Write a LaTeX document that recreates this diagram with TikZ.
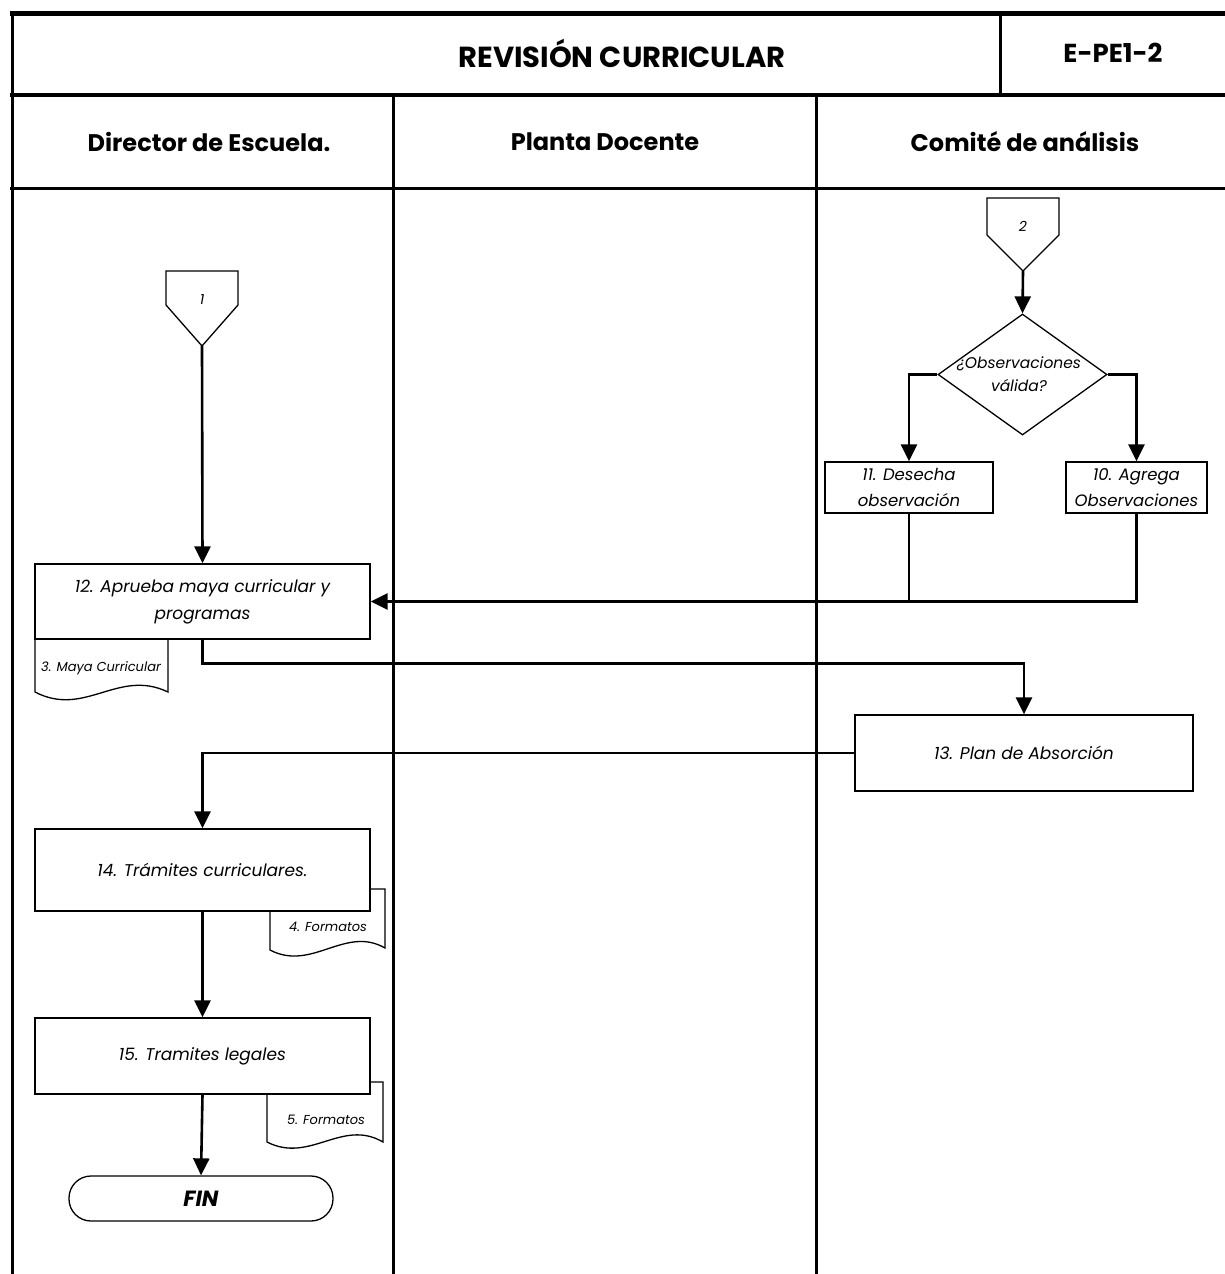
\documentclass[tikz,border=0pt]{standalone}
\usepackage{fontspec}
\setmainfont{Poppins}
\usetikzlibrary{arrows.meta,shapes.geometric,calc}

\begin{document}
\begin{tikzpicture}[x=1pt,y=-1pt,
  frame/.style={line width=3pt},
  box/.style={draw, line width=1.3pt, fill=white, align=center, inner sep=2pt,
    font=\fontsize{17}{27}\selectfont\itshape},
  docshape/.style={draw, line width=1.3pt, fill=white},
  doctext/.style={font=\fontsize{13}{15}\selectfont\itshape, inner sep=0pt},
  flow/.style={line width=2.6pt, -{Triangle[length=17pt,width=16pt]}},
  plain/.style={line width=2.6pt},
  lanehead/.style={font=\fontsize{24}{28}\selectfont\bfseries},
]
\useasboundingbox (0,0) rectangle (1225,1274);

% ---- frame, title row and lane headers ----
\draw[line width=5pt] (10,13) -- (1225,13);
\draw[line width=4pt] (10,95) -- (1225,95);
\draw[frame] (10,188) -- (1225,188);
\draw[frame] (12,11) -- (12,1274);
\draw[frame] (1000,11) -- (1000,95);
\draw[frame] (393,95) -- (393,1274);
\draw[frame] (816,95) -- (816,1274);

\node[font=\fontsize{29}{34}\selectfont\bfseries] (title) at (622,53) {REVISIÓN CURRICULAR};
\node[font=\fontsize{26}{30}\selectfont\bfseries] (code) at (1113,53) {E-PE1-2};
\node[lanehead] (lane1) at (209,142) {Director de Escuela.};
\node[lanehead] (lane2) at (605,142) {Planta Docente};
\node[lanehead] (lane3) at (1025,142) {Comité de análisis};

% ---- off-page connectors ----
\draw[line width=1.3pt, fill=white] (166,271) -- (238,271) -- (238,305) -- (202,346) -- (166,305) -- cycle;
\coordinate (c1) at (202,346);
\node[font=\fontsize{14}{16}\selectfont\itshape] (c1t) at (202,300) {1};

\draw[line width=1.3pt, fill=white] (987,198) -- (1059,198) -- (1059,235) -- (1023,271) -- (987,235) -- cycle;
\coordinate (c2) at (1023,271);
\node[font=\fontsize{14}{16}\selectfont\itshape] (c2t) at (1023,226) {2};

% ---- decision ----
\node[diamond, draw, line width=1.3pt, minimum width=169pt, minimum height=121pt, inner sep=0pt] (dec) at (1022.5,374.5) {};
\node[font=\fontsize{15.5}{23}\selectfont\itshape, align=center, inner sep=0pt] (dect) at (1019,374) {¿Observaciones\\válida?};

% ---- documents (drawn beneath the process boxes) ----
\draw[docshape] (35,630) -- (35,692) .. controls (85,718) and (118,668) .. (168,692) -- (168,630) -- cycle;
\node[doctext] (d3) at (101,668) {3. Maya Curricular};

\draw[docshape] (270,889) -- (270,950) .. controls (312,972) and (345,925) .. (385,948) -- (385,889) -- cycle;
\node[doctext] (d4) at (328,927) {4. Formatos};

\draw[docshape] (267,1082) -- (267,1142) .. controls (310,1164) and (342,1118) .. (383,1142) -- (383,1082) -- cycle;
\node[doctext] (d5) at (326,1120) {5. Formatos};

% ---- process boxes ----
\node[box, minimum width=168pt, minimum height=51pt, inner sep=0pt, font=\fontsize{16.5}{26}\selectfont\itshape] (p11) at (909,487.5) {11. Desecha\\observación};
\node[box, minimum width=141pt, minimum height=51pt, inner sep=0pt, font=\fontsize{16.5}{26}\selectfont\itshape] (p10) at (1136.5,487.5) {10. Agrega\\Observaciones};
\node[box, minimum width=335pt, minimum height=75pt] (p12) at (202.5,601.5) {12. Aprueba maya curricular y\\programas};
\node[box, minimum width=338pt, minimum height=76pt] (p13) at (1024,753) {13. Plan de Absorción};
\node[box, minimum width=335pt, minimum height=82pt] (p14) at (202.5,870) {14. Trámites curriculares.};
\node[box, minimum width=335pt, minimum height=76pt] (p15) at (202.5,1056) {15. Tramites legales};
\node[draw, line width=1.3pt, rounded corners=22pt, minimum width=264pt, minimum height=45pt,
  font=\fontsize{22}{24}\selectfont\bfseries\itshape] (fin) at (201,1198.5) {FIN};

% ---- connectors ----
\draw[flow] (c1) -- (p12.north);
\draw[flow] (c2) -- (dec.north);
\draw[flow] (dec.west) -| (p11.north);
\draw[flow] (dec.east) -| (p10.north);
\draw[plain] (p11.south) -- (p11.south |- p12.east);
\draw[flow] (p10.south) |- (p12.east);
\coordinate (j1) at ($(p12.south)+(0,24)$);
\draw[flow] (p12.south) -- (j1) -| (p13.north);
\draw[flow] (p13.west) -| (p14.north);
\draw[flow] (p14.south) -- (p15.north);
\draw[flow] (p15.south) -- (fin.north);
\end{tikzpicture}
\end{document}
